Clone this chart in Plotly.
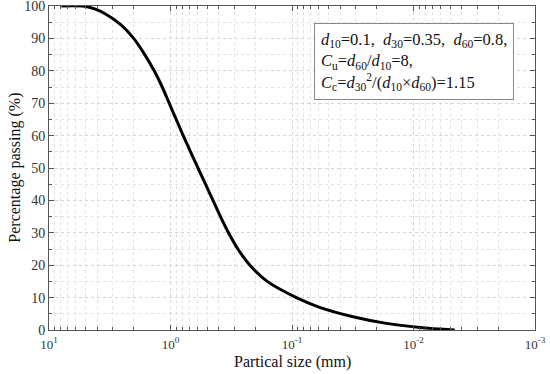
import plotly.graph_objects as go

# Particle size (mm) and percentage passing
size_mm = [7.90, 5.08, 4.21, 3.48, 2.54, 2.009, 1.630, 1.362, 1.170, 1.025, 0.898,
           0.786, 0.684, 0.594, 0.515, 0.447, 0.388, 0.333, 0.279, 0.222, 0.160,
           0.0920, 0.0592, 0.0315, 0.0167, 0.00889, 0.00458]
passing = [100, 99.9, 99.1, 97.7, 94.1, 90, 85, 80, 75, 70, 65,
           60, 55, 50, 45, 40, 35, 30, 25, 20, 15,
           10, 7, 4.1, 2.05, 0.8, 0]

x_tickvals = [10, 1, 0.1, 0.01, 0.001]
x_ticktext = ["10<sup>1</sup>", "10<sup>0</sup>", "10<sup>-1</sup>", "10<sup>-2</sup>", "10<sup>-3</sup>"]
x_minor = [m * 10.0 ** e for e in range(-3, 1) for m in range(2, 10)]
y_tickvals = list(range(0, 101, 10))

FONT = "Liberation Serif"

fig = go.Figure()
fig.add_trace(go.Scatter(x=size_mm, y=passing, mode="lines",
                         line=dict(color="black", width=3, shape="spline", smoothing=0.9),
                         showlegend=False, hoverinfo="skip"))

common = dict(ticks="inside", ticklen=5, tickcolor="#555", showline=True, linecolor="#555",
              linewidth=1, mirror="ticks", showgrid=True, gridcolor="#d4d4d4", griddash="dot",
              gridwidth=1, zeroline=False, automargin=False, ticklabeloverflow="allow")

fig.update_layout(
    width=550, height=374,
    margin=dict(l=49, r=15, t=6, b=44),
    paper_bgcolor="white", plot_bgcolor="white",
    font=dict(family=FONT, size=14, color="#222"),
    xaxis=dict(type="log", range=[1, -3], tickmode="array", tickvals=x_tickvals,
               ticktext=x_ticktext, tickfont=dict(family=FONT, size=13, color="#333"),
               ticklabelstandoff=2,
               minor=dict(tickmode="array", tickvals=x_minor, ticks="inside", ticklen=3,
                          tickcolor="#555", showgrid=True, gridcolor="#e2e2e2", griddash="dot"),
               **common),
    yaxis=dict(range=[0, 100], tickmode="array", tickvals=y_tickvals,
               tickfont=dict(family=FONT, size=14, color="#333"),
               minor=dict(dtick=5, ticks="inside", ticklen=3, tickcolor="#555",
                          showgrid=True, gridcolor="#e2e2e2", griddash="dot"),
               **common),
)

# axis titles
fig.add_annotation(xref="paper", yref="paper", x=0.5, y=-0.099, xanchor="center", yanchor="middle",
                   text="Partical size (mm)", showarrow=False,
                   font=dict(family=FONT, size=16, color="#111"))
fig.add_annotation(xref="paper", yref="paper", x=-0.0706, y=0.5, xanchor="center", yanchor="middle",
                   text="Percentage passing (%)", textangle=-90, showarrow=False,
                   font=dict(family=FONT, size=16, color="#111"))

txt = ("<i>d</i><sub>10</sub>=0.1,  <i>d</i><sub>30</sub>=0.35,  <i>d</i><sub>60</sub>=0.8,<br>"
       "<i>C</i><sub>u</sub>=<i>d</i><sub>60</sub>/<i>d</i><sub>10</sub>=8,<br>"
       "<i>C</i><sub>c</sub>=<i>d</i><sub>30</sub><sup>2</sup>/(<i>d</i><sub>10</sub>×<i>d</i><sub>60</sub>)=1.15")
fig.add_annotation(xref="paper", yref="paper", x=0.545, y=0.948, xanchor="left", yanchor="top",
                   text=txt, showarrow=False, align="left",
                   font=dict(family=FONT, size=16.5, color="#111"),
                   bgcolor="white", bordercolor="#888", borderwidth=1, borderpad=6)

fig.write_html("out.html", config={"displayModeBar": False},
               post_script="document.body.style.margin='0px';document.body.style.padding='0px';")
